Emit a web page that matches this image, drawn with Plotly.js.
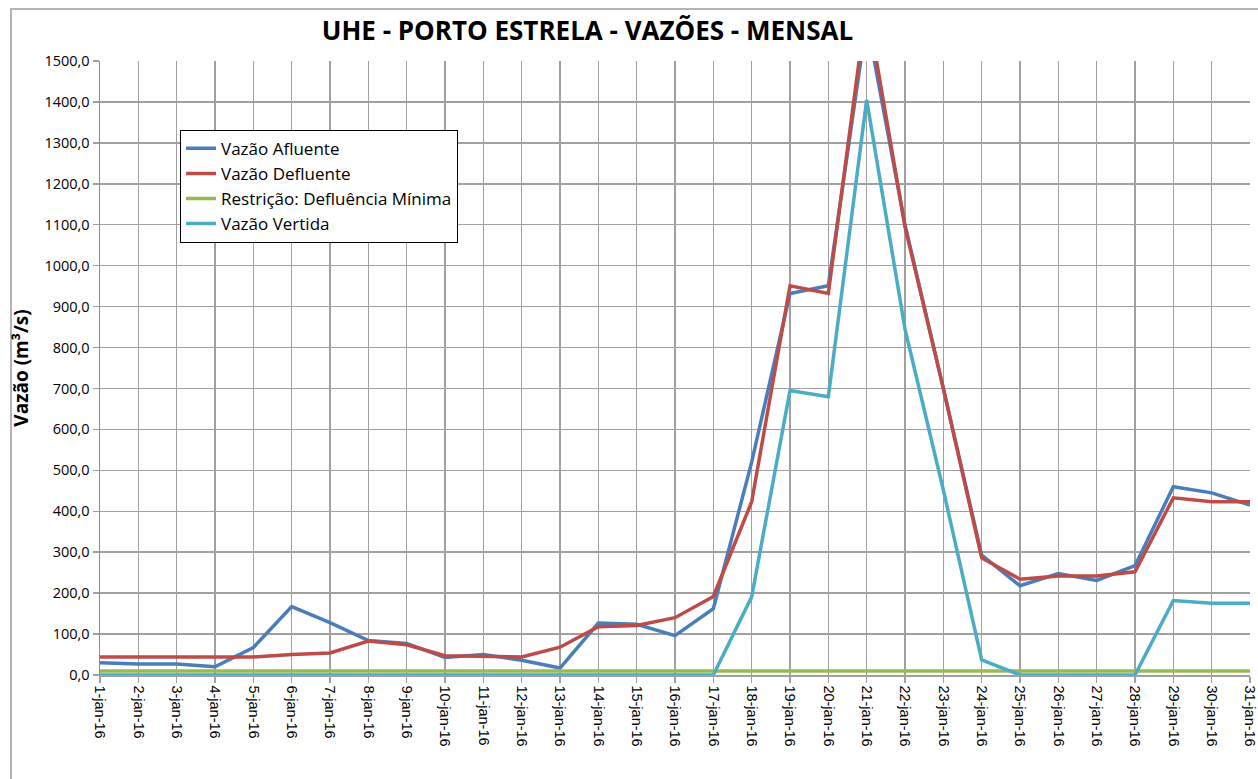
<!DOCTYPE html>
<html>
<head>
<meta charset="utf-8">
<script src="https://cdn.plot.ly/plotly-3.0.1.min.js"></script>
<style>
  body { margin: 0; background: #fff; }
  #frame { position: absolute; left: 10px; top: 8px; width: 1260px; height: 790px; border: 2px solid #b4b4b4; }
  #plot { position: absolute; left: 0; top: 0; width: 1258px; height: 779px; }
</style>
</head>
<body>
<div id="frame"></div>
<div id="plot"></div>
<script>
// dias do mês
const dias = [];
for (let d = 1; d <= 31; d++) dias.push(d + "-jan-16");

// valores (m³/s)
const afluente = [30, 27, 27, 20, 67, 167, 128, 84, 77, 43, 50, 36, 17, 127, 124, 96, 162,
  520, 932, 951, 1600, 1100, 700, 293, 218, 248, 231, 267, 460, 445, 415];
const defluente = [44, 44, 44, 44, 44, 50, 54, 83, 74, 47, 45, 44, 68, 118, 121, 140, 192,
  423, 951, 932, 1640, 1095, 700, 286, 234, 242, 242, 252, 433, 423, 423];
const restricao = [10, 10, 10, 10, 10, 10, 10, 10, 10, 10, 10, 10, 10, 10, 10, 10, 10,
  10, 10, 10, 10, 10, 10, 10, 10, 10, 10, 10, 10, 10, 10];
const vertida = [0, 0, 0, 0, 0, 0, 0, 0, 0, 0, 0, 0, 0, 0, 0, 0, 0,
  191, 695, 680, 1405, 845, 452, 37, 0, 0, 0, 0, 182, 175, 175];

const fonte = "Open Sans, Lato, sans-serif";

function serie(nome, y, cor) {
  return {
    x: dias, y: y, name: nome, type: "scatter", mode: "lines",
    line: { color: cor, width: 3.5 }, cliponaxis: true
  };
}

const traces = [
  serie("Vazão Afluente", afluente, "#4a7ebb"),
  serie("Vazão Defluente", defluente, "#be4b48"),
  serie("Restrição: Defluência Mínima", restricao, "#98b954"),
  serie("Vazão Vertida", vertida, "#4bacc6")
];

const layout = {
  width: 1258, height: 779,
  margin: { l: 100, r: 8, t: 61, b: 104 },
  paper_bgcolor: "rgba(0,0,0,0)",
  plot_bgcolor: "#fff",
  separators: ",.",
  font: { family: fonte, color: "#000" },
  title: {
    text: "<b>UHE - PORTO ESTRELA - VAZÕES - MENSAL</b>",
    font: { size: 26, family: fonte, color: "#000" },
    x: 0.467, xanchor: "center", y: 0.96, yanchor: "middle"
  },
  showlegend: true,
  legend: {
    x: 0.0696, y: 0.888, xanchor: "left", yanchor: "top",
    bgcolor: "#fff", bordercolor: "#000", borderwidth: 1,
    font: { size: 17, family: fonte }, tracegroupgap: 0
  },
  xaxis: {
    type: "category", range: [0, 30],
    tickangle: 90, tickfont: { size: 14.5, family: "Liberation Sans, Arial" },
    showgrid: true, gridcolor: "#a0a0a0", gridwidth: 1.5,
    ticks: "outside", ticklen: 6, tickcolor: "#a0a0a0", tickwidth: 1.5,
    showline: true, linecolor: "#a0a0a0", linewidth: 1.5,
    zeroline: false, fixedrange: true
  },
  yaxis: {
    title: { text: "<b>Vazão (m³/s)</b>", font: { size: 19, family: fonte }, standoff: 10 },
    range: [0, 1500], dtick: 100, tick0: 0, tickformat: ".1f",
    tickfont: { size: 14.5, family: fonte },
    showgrid: true, gridcolor: "#a0a0a0", gridwidth: 1.5,
    ticks: "outside", ticklen: 6, tickcolor: "#a0a0a0", tickwidth: 1.5,
    showline: true, linecolor: "#8c8c8c", linewidth: 1.5,
    zeroline: false, fixedrange: true
  }
};

Plotly.newPlot("plot", traces, layout, { displayModeBar: false, staticPlot: true });
</script>
</body>
</html>
